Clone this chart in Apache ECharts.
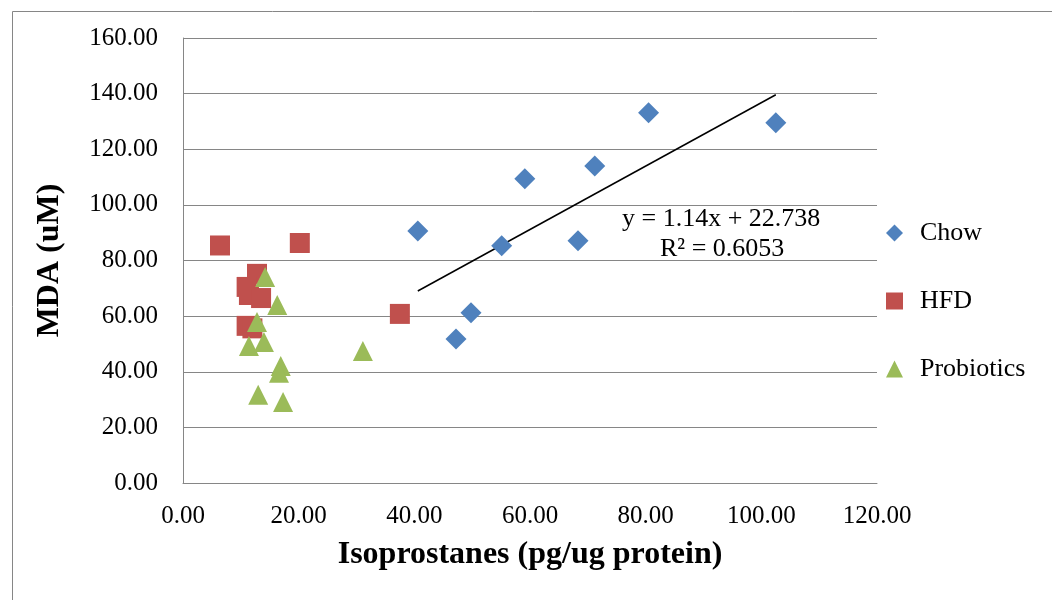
<!DOCTYPE html>
<html>
<head>
<meta charset="utf-8">
<script src="https://cdn.jsdelivr.net/npm/echarts@6/dist/echarts.min.js"></script>
<style>
  html, body { margin: 0; padding: 0; background: #fff; }
  #chart { width: 1052px; height: 600px; }
</style>
</head>
<body>
<div id="chart"></div>
<script>
// data
var chowX = [40.6, 47.2, 49.8, 55.1, 59.1, 68.3, 71.2, 80.5, 102.5];
var chowY = [90.6, 51.8, 61.2, 85.3, 109.4, 87.1, 114.0, 133.1, 129.5];

var hfdX = [6.4, 20.2, 12.8, 11.0, 11.4, 13.5, 11.0, 12.0, 37.5];
var hfdY = [85.4, 86.3, 75.2, 70.5, 67.6, 66.5, 56.5, 55.6, 60.8];

var probX = [14.2, 16.3, 12.8, 11.4, 14.0, 16.9, 16.6, 31.1, 13.0, 17.3];
var probY = [74.1, 64.0, 57.9, 49.3, 50.7, 42.1, 39.6, 47.5, 31.7, 29.1];

// linear trend shown for Chow
var trendSlope = 1.14;
var trendIntercept = 22.738;
var trendText = ['y = 1.14x + 22.738', 'R² = 0.6053'];

function pairs(xs, ys) {
    var out = [];
    for (var i = 0; i < xs.length; i++) out.push([xs[i], ys[i]]);
    return out;
}

var xMin = Math.min.apply(null, chowX);
var xMax = Math.max.apply(null, chowX);
var trendData = [
    [xMin, trendSlope * xMin + trendIntercept],
    [xMax, trendSlope * xMax + trendIntercept]
];

var font = '"Liberation Serif", "Times New Roman", serif';
var myChart = echarts.init(document.getElementById('chart'));

var option = {
    backgroundColor: '#ffffff',
    animation: false,
    textStyle: { fontFamily: font, color: '#000' },
    grid: { left: 183, right: 175, top: 38, bottom: 117 },
    legend: {
        orient: 'vertical',
        left: 881,
        top: 215,
        itemGap: 42,
        itemWidth: 17,
        itemHeight: 17,
        textStyle: { fontFamily: font, fontSize: 26, color: '#000', padding: [0, 0, 0, 12] },
        data: [
            { name: 'Chow', icon: 'diamond' },
            { name: 'HFD', icon: 'rect' },
            { name: 'Probiotics', icon: 'triangle' }
        ]
    },
    xAxis: {
        type: 'value',
        min: 0,
        max: 120,
        interval: 20,
        name: 'Isoprostanes (pg/ug protein)',
        nameLocation: 'middle',
        nameGap: 56,
        nameTextStyle: { fontFamily: font, fontSize: 32, fontWeight: 'bold', color: '#000' },
        axisLine: { show: true, lineStyle: { color: '#868686', width: 1 } },
        axisTick: { show: false },
        splitLine: { show: false },
        axisLabel: {
            fontFamily: font, fontSize: 25, color: '#000', margin: 21,
            formatter: function (v) { return v.toFixed(2); }
        }
    },
    yAxis: {
        type: 'value',
        min: 0,
        max: 160,
        interval: 20,
        name: 'MDA (uM)',
        nameLocation: 'middle',
        nameGap: 117,
        nameTextStyle: { fontFamily: font, fontSize: 32, fontWeight: 'bold', color: '#000' },
        axisLine: { show: true, lineStyle: { color: '#868686', width: 1 } },
        axisTick: { show: false },
        splitLine: { show: true, lineStyle: { color: '#868686', width: 1 } },
        axisLabel: {
            fontFamily: font, fontSize: 25, color: '#000', margin: 25,
            formatter: function (v) { return v.toFixed(2); }
        }
    },
    series: [
        {
            name: 'Chow', type: 'scatter', symbol: 'diamond', symbolSize: 21,
            itemStyle: { color: '#4F81BD', opacity: 1 },
            data: pairs(chowX, chowY), z: 3
        },
        {
            name: 'HFD', type: 'scatter', symbol: 'rect', symbolSize: 20,
            itemStyle: { color: '#C0504D', opacity: 1 },
            data: pairs(hfdX, hfdY), z: 3
        },
        {
            name: 'Probiotics', type: 'scatter', symbol: 'triangle', symbolSize: 20,
            itemStyle: { color: '#9BBB59', opacity: 1 },
            data: pairs(probX, probY), z: 4
        },
        {
            name: 'trend', type: 'line', showSymbol: false, silent: true,
            lineStyle: { color: '#000', width: 1.5 },
            data: trendData, z: 2
        }
    ],
    graphic: [
        {
            type: 'rect', left: 10, top: 9, silent: true, z: -1,
            shape: { x: 0.5, y: 0.5, width: 1100, height: 700 },
            style: { fill: 'none', stroke: '#868686', lineWidth: 1 }
        },
        {
            type: 'text', left: 622, top: 206,
            style: { text: trendText[0], font: '26px ' + font, fill: '#000' }
        },
        {
            type: 'text', left: 660, top: 236,
            style: { text: trendText[1], font: '26px ' + font, fill: '#000' }
        }
    ]
};

myChart.setOption(option);
</script>
</body>
</html>
